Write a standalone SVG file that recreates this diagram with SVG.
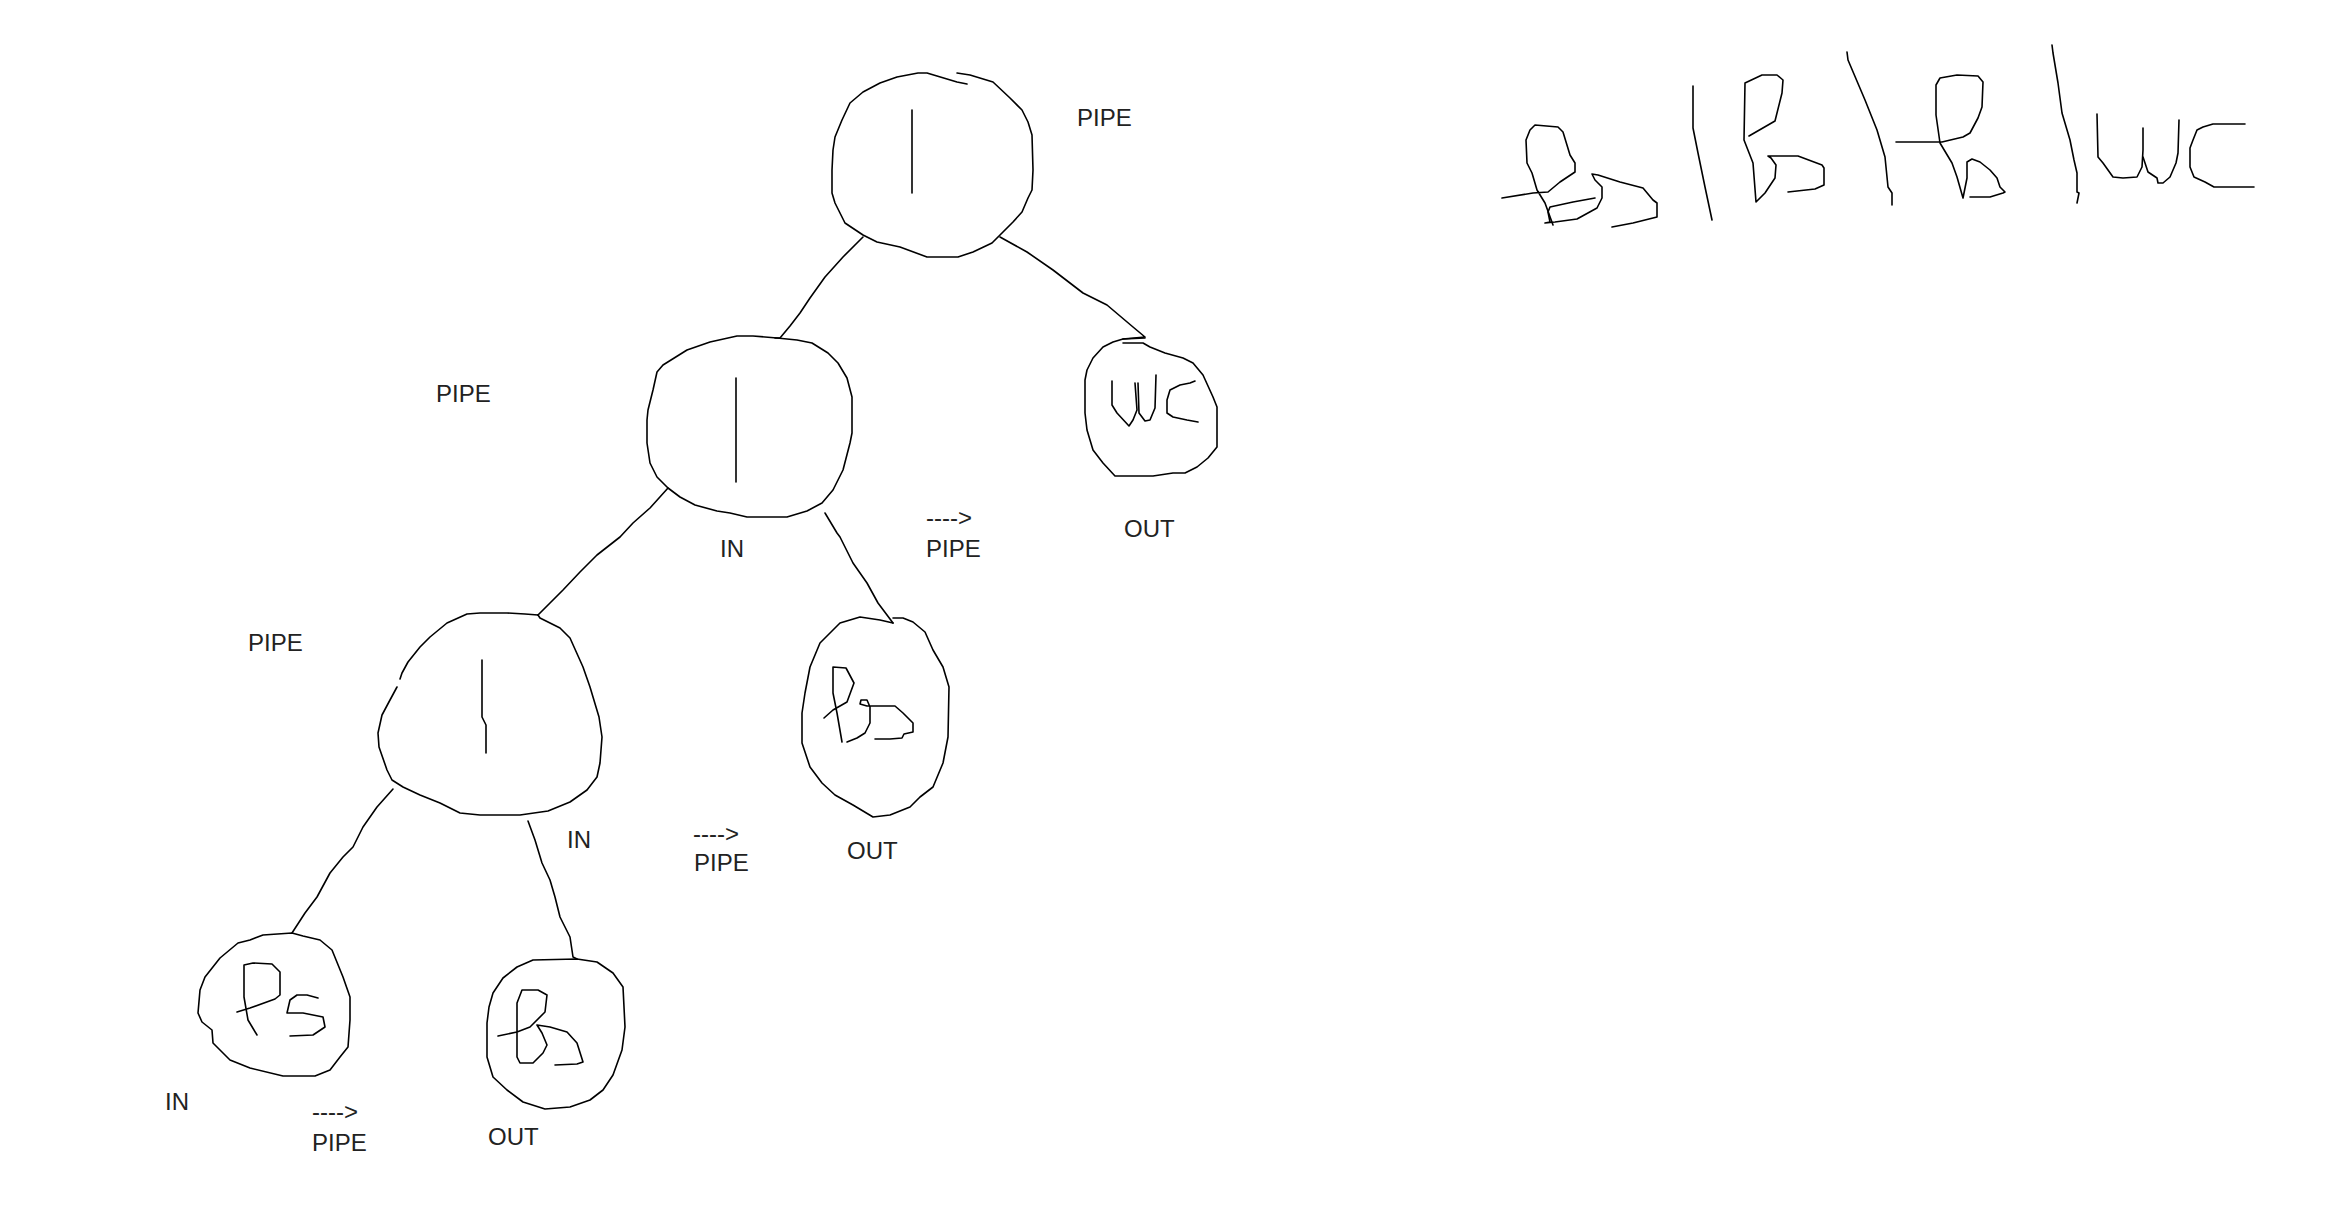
<svg xmlns="http://www.w3.org/2000/svg" width="2342" height="1217" viewBox="0 0 2342 1217">
<style>
.s{fill:none;stroke:#000;stroke-width:1.6;stroke-linejoin:round;stroke-linecap:round}
.t{font-family:"Liberation Sans",Arial,sans-serif;font-size:24px;fill:#222}
</style>
<rect width="2342" height="1217" fill="#fff"/>
<g id="connectors" class="s">
<path d="M863,237 L843,257 L825,277 L810,298 L800,313 L790,326 L780,338 L775,338"/>
<path d="M1000,237 L1027,252 L1053,270 L1083,293 L1107,305 L1133,327 L1145,337 L1123,339"/>
<path d="M668,488 L650,508 L633,523 L620,537 L597,555 L580,572 L563,590 L550,603 L538,615"/>
<path d="M825,513 L837,533 L840,537 L853,563 L867,583 L878,603 L893,623"/>
<path d="M393,789 L377,807 L363,827 L353,847 L343,857 L330,873 L317,897 L305,913 L292,933"/>
<path d="M528,821 L535,840 L542,863 L550,880 L555,897 L560,917 L570,937 L573,957 L577,959"/>
</g>
<g id="node-root" class="s">
<path d="M967,84 L957,82 L927,73 L918,73 L897,77 L880,83 L863,92 L850,103 L842,120 L835,137 L833,150 L832,170 L832,193 L835,203 L845,223 L863,235 L877,242 L900,247 L927,257 L958,257 L973,252 L992,243 L1003,232 L1013,222 L1022,212 L1028,198 L1032,190 L1033,170 L1032,135 L1028,122 L1022,110 L1010,98 L993,82 L970,75 L957,73"/>
<path d="M912,110 L912,193"/>
</g>
<g id="node-pipe2" class="s">
<path d="M777,338 L753,336 L737,336 L710,342 L687,350 L663,365 L657,372 L653,390 L648,410 L647,420 L647,443 L650,463 L657,477 L668,488 L680,497 L695,505 L717,511 L730,513 L747,517 L787,517 L807,511 L822,503 L833,490 L843,470 L850,443 L852,433 L852,397 L847,378 L838,363 L828,353 L812,343 L797,340 Z"/>
<path d="M736,378 L736,482"/>
</g>
<g id="node-wc" class="s">
<path d="M1145,338 L1123,339 L1113,342 L1103,347 L1093,358 L1087,370 L1085,380 L1085,413 L1087,430 L1093,450 L1103,463 L1115,476 L1153,476 L1173,473 L1185,473 L1197,467 L1208,458 L1217,447 L1217,407 L1213,397 L1203,375 L1193,363 L1183,358 L1165,353 L1150,347 L1143,343 L1123,343"/>
<path d="M1112,381 L1112,405 L1117,413 L1129,426 L1133,420 L1137,410 L1135,383"/>
<path d="M1138,383 L1139,413 L1145,421 L1150,420 L1155,408 L1156,375"/>
<path d="M1195,381 L1190,383 L1180,385 L1170,390 L1167,400 L1167,413 L1173,417 L1187,420 L1198,422"/>
</g>
<g id="node-pipe3" class="s">
<path d="M538,615 L525,614 L507,613 L480,613 L467,614 L447,623 L430,637 L420,647 L408,662 L402,673 L400,679"/>
<path d="M397,687 L390,700 L382,715 L378,733 L379,747 L387,770 L392,780 L403,787 L420,795 L440,803 L460,813 L480,815 L520,815 L548,811 L570,802 L587,790 L597,777 L600,763 L602,737 L599,717 L590,687 L583,667 L570,638 L560,628 L540,618 L538,615"/>
<path d="M482,660 L482,717 L486,725 L486,753"/>
</g>
<g id="node-bs1" class="s">
<path d="M893,623 L880,620 L860,617 L840,623 L820,643 L810,667 L805,693 L802,713 L802,743 L810,767 L822,783 L835,795 L853,805 L873,817 L890,815 L910,807 L920,797 L933,787 L943,763 L948,737 L949,687 L943,667 L933,650 L925,632 L913,622 L903,618 L893,618"/>
<path d="M842,742 L837,713 L833,693 L833,667 L846,668 L854,683 L847,702 L833,710 L824,718"/>
<path d="M847,742 L857,738 L865,733 L870,723 L870,707 L867,700 L861,700 L860,704 L867,706 L877,706 L895,706 L903,713 L913,723 L913,732 L904,734 L902,738 L890,739 L875,739"/>
</g>
<g id="node-ps" class="s">
<path d="M292,933 L263,935 L250,940 L238,943 L220,958 L205,977 L200,990 L198,1013 L202,1022 L212,1030 L213,1043 L230,1060 L250,1068 L283,1076 L315,1076 L330,1070 L340,1057 L348,1047 L350,1020 L350,997 L343,977 L332,950 L320,940 L303,936 Z"/>
<path d="M257,1035 L248,1020 L244,997 L244,965 L253,963 L272,964 L280,972 L280,995 L275,999 L250,1008 L237,1012"/>
<path d="M318,998 L307,995 L297,995 L290,1000 L287,1013 L303,1013 L323,1017 L325,1027 L313,1035 L290,1036"/>
</g>
<g id="node-bs2" class="s">
<path d="M577,959 L533,960 L517,967 L503,978 L493,993 L489,1007 L487,1023 L487,1057 L493,1077 L507,1090 L523,1102 L545,1109 L570,1107 L590,1100 L603,1090 L613,1075 L622,1050 L625,1027 L623,987 L613,973 L597,962 Z"/>
<path d="M498,1036 L517,1032 L530,1027 L545,1012 L547,995 L538,990 L522,990 L517,1003 L517,1057 L520,1063 L533,1063 L543,1053 L547,1045 L542,1033 L537,1025 L550,1027 L567,1032 L577,1043 L583,1062 L577,1064 L555,1065"/>
</g>
<g id="labels" class="t">
<text x="1077" y="126">PIPE</text>
<text x="436" y="402">PIPE</text>
<text x="720" y="557">IN</text>
<text x="926" y="526">----&gt;</text>
<text x="926" y="557">PIPE</text>
<text x="1124" y="537">OUT</text>
<text x="248" y="651">PIPE</text>
<text x="567" y="848">IN</text>
<text x="693" y="842">----&gt;</text>
<text x="694" y="871">PIPE</text>
<text x="847" y="859">OUT</text>
<text x="165" y="1110">IN</text>
<text x="312" y="1120">----&gt;</text>
<text x="312" y="1151">PIPE</text>
<text x="488" y="1145">OUT</text>
</g>
<g id="expression" class="s">
<path d="M1553,225 L1545,203 L1537,190 L1532,173 L1527,163 L1526,140 L1530,130 L1535,125 L1558,127 L1563,132 L1570,155 L1575,163 L1575,172 L1560,182 L1548,192 L1533,193 L1502,198"/>
<path d="M1595,198 L1573,202 L1550,207 L1548,212 L1550,222 L1545,223 L1555,222 L1577,219 L1597,208 L1602,198 L1602,187 L1595,180 L1592,174 L1598,175 L1620,182 L1643,188 L1653,200 L1657,203 L1657,217 L1633,223 L1612,227"/>
<path d="M1693,86 L1693,128 L1698,153 L1705,187 L1712,220"/>
<path d="M1749,136 L1775,121 L1782,93 L1783,80 L1777,75 L1762,75 L1745,83 L1744,140 L1753,163 L1756,202 L1765,193 L1775,178 L1776,165 L1771,158 L1768,156 L1798,156 L1822,165 L1824,168 L1824,185 L1815,189 L1788,192"/>
<path d="M1847,52 L1848,60 L1865,100 L1877,130 L1885,157 L1888,187 L1892,193 L1892,205"/>
<path d="M1896,142 L1942,142 L1963,137 L1970,133 L1978,118 L1982,107 L1983,82 L1978,76 L1957,75 L1940,78 L1936,85 L1936,115 L1940,143 L1952,163 L1957,177 L1963,198 L1967,178 L1967,162 L1972,159 L1980,162 L1990,170 L1997,178 L2000,187 L2005,192 L2003,193 L1990,197 L1970,197"/>
<path d="M2052,45 L2053,53 L2058,83 L2062,113 L2070,140 L2074,160 L2077,173 L2077,192 L2079,193 L2077,203"/>
<path d="M2097,114 L2098,157 L2103,163 L2113,177 L2123,178 L2137,177 L2142,167 L2143,150 L2143,128"/>
<path d="M2143,157 L2148,172 L2157,178 L2158,183 L2163,183 L2170,177 L2176,163 L2178,153 L2179,120"/>
<path d="M2245,124 L2213,124 L2203,127 L2197,130 L2193,140 L2190,148 L2190,167 L2194,177 L2205,182 L2214,187 L2254,187"/>
</g>
</svg>
